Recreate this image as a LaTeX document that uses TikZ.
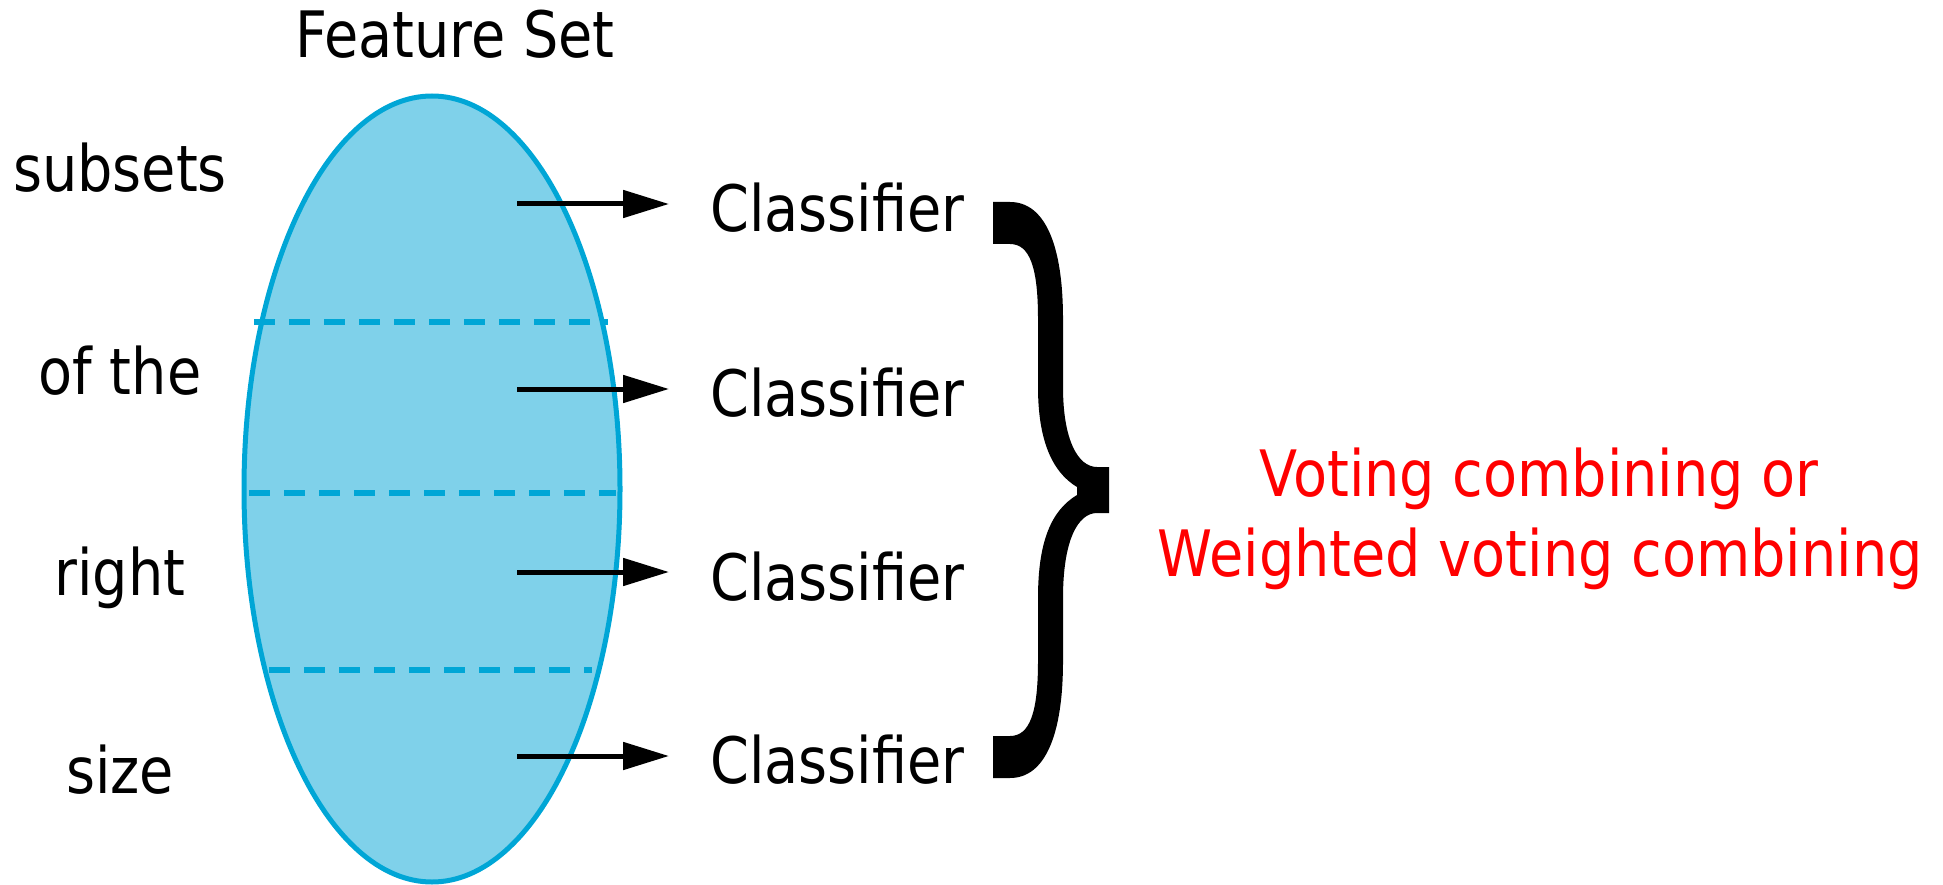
\documentclass[tikz,border=0pt]{standalone}
\usepackage{fontspec}
\setmainfont{DejaVu Sans}[FakeStretch=0.87]
\usetikzlibrary{arrows.meta}
\definecolor{cyanline}{RGB}{0,166,214}
\definecolor{cyanfill}{RGB}{127,209,234}
\definecolor{redtext}{RGB}{255,0,0}
\begin{document}
\begin{tikzpicture}[x=1pt,y=-1pt,
  lbl/.style={font=\fontsize{64}{77}\selectfont, inner sep=0pt, anchor=base},
  clf/.style={lbl, anchor=base west},
  redlbl/.style={lbl, text=redtext},
  sepline/.style={draw=cyanline, line width=6pt, dash pattern=on 21pt off 14pt},
  feedarrow/.style={draw=black, line width=5pt, -{Triangle[length=46pt,width=27pt]}}]
\useasboundingbox (0,0) rectangle (1943,885);
% feature set ellipse
\node[lbl] (title) at (455,58) {Feature Set};
\path[fill=cyanfill, draw=cyanline, line width=5pt] (432,489) ellipse [x radius=188, y radius=393];
\coordinate (d1a) at (254,322); \coordinate (d1b) at (608,322);
\coordinate (d2a) at (249,493); \coordinate (d2b) at (616,493);
\coordinate (d3a) at (269,670); \coordinate (d3b) at (592,670);
\draw[sepline] (d1a) -- (d1b);
\draw[sepline] (d2a) -- (d2b);
\draw[sepline] (d3a) -- (d3b);
% left labels
\node[lbl] (l1) at (120,192) {subsets};
\node[lbl] (l2) at (120,394) {of the};
\node[lbl] (l3) at (120,595) {right};
\node[lbl] (l4) at (120,793) {size};
% classifiers
\node[clf] (c1) at (710,232) {Classifier};
\node[clf] (c2) at (710,416) {Classifier};
\node[clf] (c3) at (710,600) {Classifier};
\node[clf] (c4) at (710,783) {Classifier};
\coordinate (s1) at (517,204);
\coordinate (s2) at (517,389);
\coordinate (s3) at (517,572);
\coordinate (s4) at (517,756);
\foreach \i in {1,2,3,4}
  \draw[feedarrow, shorten >=41pt] (s\i) -- (s\i -| c\i.west);
% brace
\fill[black] (993,202) -- (1010,202)
  .. controls (1045,202) and (1063,245) .. (1063,319)
  -- (1063,387)
  .. controls (1063,440) and (1078,467) .. (1097,467)
  -- (1109,467) -- (1109,513) -- (1097,513)
  .. controls (1078,513) and (1063,540) .. (1063,598)
  -- (1063,661)
  .. controls (1063,735) and (1045,778) .. (1010,778)
  -- (993,778) -- (993,736) -- (1010,736)
  .. controls (1030,736) and (1038,712) .. (1038,661)
  -- (1038,598)
  .. controls (1038,540) and (1052,510) .. (1077,495)
  -- (1077,487)
  .. controls (1052,472) and (1038,440) .. (1038,387)
  -- (1038,319)
  .. controls (1038,268) and (1030,244) .. (1010,244)
  -- (993,244) -- cycle;
% result text
\node[redlbl] (v1) at (1539,496) {Voting combining or};
\node[redlbl] (v2) at (1540,576) {Weighted voting combining};
\end{tikzpicture}
\end{document}
